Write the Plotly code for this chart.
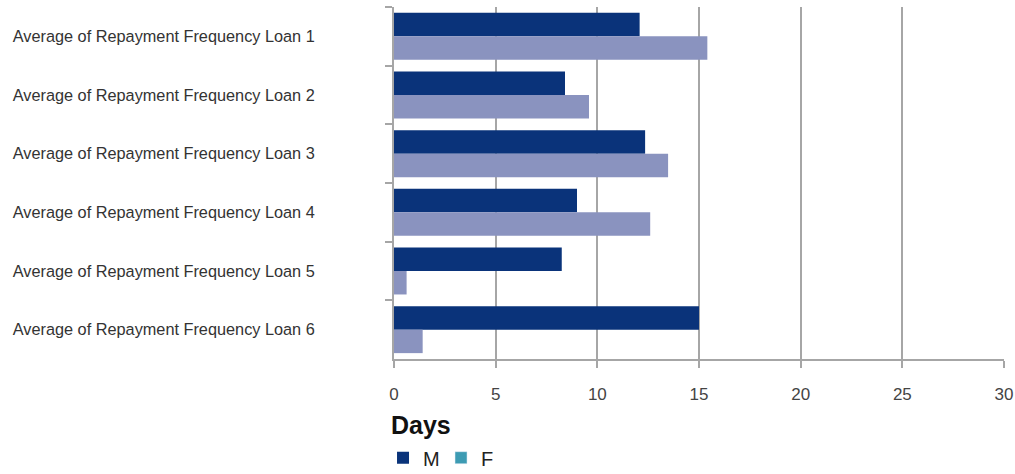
import plotly.graph_objects as go

categories = [f"Average of Repayment Frequency Loan {i}" for i in range(1, 7)]
m_values = [12.08, 8.41, 12.35, 9.0, 8.25, 15.0]
f_values = [15.41, 9.59, 13.48, 12.6, 0.62, 1.41]
x_ticks = [0, 5, 10, 15, 20, 25, 30]

M_COLOR = "#0a337a"
F_COLOR = "#8a93bf"
F_LEGEND = "#3d9bb3"
GRID = "#a6a6a6"

fig = go.Figure()
fig.add_trace(go.Bar(y=categories, x=m_values, orientation="h", name="M",
                     marker=dict(color=M_COLOR, line=dict(width=0)), offsetgroup="M"))
fig.add_trace(go.Bar(y=categories, x=f_values, orientation="h", name="F",
                     marker=dict(color=F_COLOR, line=dict(width=0)), offsetgroup="F",
                     showlegend=False))
fig.add_trace(go.Bar(y=[None], x=[None], orientation="h", name="F",
                     marker=dict(color=F_LEGEND), offsetgroup="F", showlegend=True))

fig.update_layout(
    width=1015, height=474,
    margin=dict(l=394, r=11, t=7, b=115, autoexpand=False),
    plot_bgcolor="white", paper_bgcolor="white",
    barmode="group", bargap=0.2, bargroupgap=0,
    font=dict(family="Liberation Sans, Arial, sans-serif", color="#333333", size=16),
    xaxis=dict(range=[0, 30], tickvals=x_ticks, showgrid=True, gridcolor=GRID, gridwidth=2,
               showline=True, linecolor=GRID, linewidth=2, ticks="outside", ticklen=7,
               tickcolor=GRID, tickwidth=2, zeroline=False,
               tickfont=dict(size=17, color="#444444"), ticklabelstandoff=12),
    yaxis=dict(autorange="reversed", showline=True, linecolor=GRID, linewidth=2,
               ticks="outside", tickson="boundaries", ticklen=7, tickcolor=GRID, tickwidth=2,
               showgrid=False, tickfont=dict(size=16.3, color="#333333"), ticklabelstandoff=74),
    legend=dict(orientation="h", x=-0.018, xanchor="left", y=-0.225, yanchor="top",
                font=dict(family="Liberation Sans, Arial, sans-serif", size=20, color="#222222"),
                itemwidth=30, entrywidth=13, tracegroupgap=0, traceorder="normal"),
    showlegend=True,
)
fig.add_annotation(text="<b>Days</b>", xref="paper", yref="paper", x=-0.008, y=-0.143,
                   xanchor="left", yanchor="top", showarrow=False,
                   font=dict(family="Liberation Sans Narrow, Arial Narrow, sans-serif", size=25, color="#111111"))

fig.write_html("out.html")
